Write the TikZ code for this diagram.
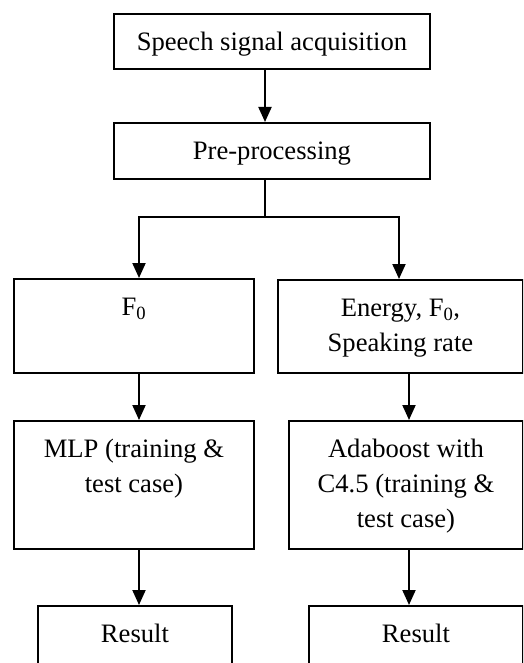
\documentclass[tikz,border=0pt]{standalone}
\usepackage{fontspec}
\setmainfont{Liberation Serif}
\usetikzlibrary{arrows.meta}
\begin{document}
\begin{tikzpicture}[x=1pt,y=-1pt,
  boxst/.style={draw, line width=1.9pt, rectangle, inner sep=0pt, anchor=north west},
  txt/.style={anchor=north, inner sep=0pt, align=center, font=\fontsize{26.6}{35}\selectfont},
  conn/.style={line width=1.7pt},
  arr/.style={line width=2pt, -{Triangle[width=13pt,length=15pt]}}]
\useasboundingbox (0,0) rectangle (523,663);
\clip (0,0) rectangle (523,663);
% boxes
\node[boxst, minimum width=316pt, minimum height=55pt] (top) at (113,13) {};
\node[boxst, minimum width=316pt, minimum height=56pt] (pre) at (113,122) {};
\node[boxst, minimum width=240pt, minimum height=94pt] (f0) at (13,278) {};
\node[boxst, minimum width=245pt, minimum height=93pt] (en) at (277,279) {};
\node[boxst, minimum width=240pt, minimum height=128pt] (mlp) at (13,420) {};
\node[boxst, minimum width=234pt, minimum height=128pt] (ada) at (288,420) {};
\node[boxst, minimum width=194pt, minimum height=90pt] (resl) at (37,605) {};
\node[boxst, minimum width=214pt, minimum height=90pt] (resr) at (308,605) {};
% texts
\node[txt] (ttop) at ([yshift=-12.5pt]top.north) {\strut Speech signal acquisition};
\node[txt] (tpre) at ([yshift=-12.5pt]pre.north) {\strut Pre-processing};
\node[txt] (tf0) at ([yshift=-12.5pt]f0.north) {\strut F\textsubscript{0}};
\node[txt] (ten) at ([yshift=-12.5pt]en.north) {\strut Energy, F\textsubscript{0},\\Speaking rate};
\node[txt] (tmlp) at ([yshift=-12.5pt]mlp.north) {\strut MLP (training \&\\test case)};
\node[txt] (tada) at ([yshift=-12.5pt]ada.north) {\strut Adaboost with\\C4.5 (training \&\\test case)};
\node[txt] (tresl) at ([yshift=-12.5pt]resl.north) {\strut Result};
\node[txt] (tresr) at ([yshift=-12.5pt]resr.north) {\strut Result};
% column coordinates
\coordinate (cm) at (265,0);
\coordinate (cl) at (139,0);
\coordinate (cr) at (409,0);
\coordinate (sl) at (139,217);
\coordinate (sr) at (399,217);
% connectors
\draw[arr] (cm |- top.south) -- (cm |- pre.north);
\draw[conn] (cm |- pre.south) -- (cm |- sl);
\draw[conn] ([xshift=-1pt]sl) -- ([xshift=1pt]sr);
\draw[arr] (sl) -- (sl |- f0.north);
\draw[arr] (sr) -- (sr |- en.north);
\draw[arr] (cl |- f0.south) -- (cl |- mlp.north);
\draw[arr] (cr |- en.south) -- (cr |- ada.north);
\draw[arr] (cl |- mlp.south) -- (cl |- resl.north);
\draw[arr] (cr |- ada.south) -- (cr |- resr.north);
\end{tikzpicture}
\end{document}
